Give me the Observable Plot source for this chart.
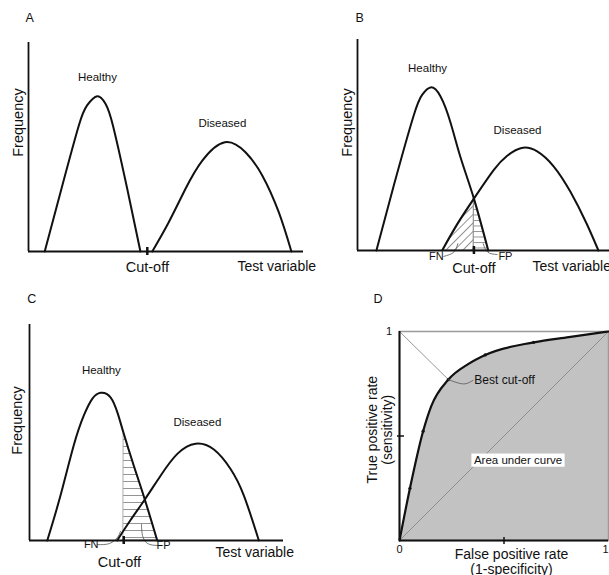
<!DOCTYPE html>
<html><head><meta charset="utf-8">
<script src="https://cdn.jsdelivr.net/npm/d3@7"></script>
<script src="https://cdn.jsdelivr.net/npm/@observablehq/plot@0.6"></script>
<style>
body{margin:0;background:#fff;}
#root{position:relative;width:609px;height:575px;overflow:hidden;background:#fff;}
#root svg{position:absolute;overflow:visible;background:transparent;}
</style></head><body><div id="root"></div>
<script>
// ---------------- DATA ----------------
// Panels A–C: test variable (0–100) vs frequency (0–100)
const healthyA  = [[5.9,0],[12.3,31.6],[18.3,60.3],[21.3,69.9],[25.0,74.3],[28.0,70.7],[30.7,60.3],[35.9,30.0],[40.7,0]];
const diseasedA = [[45.0,0],[51.0,14.0],[57.1,30.0],[63.2,43.5],[71.4,52.3],[78.9,47.5],[85.0,36.4],[91.0,18.8],[95.6,0]];
const cutoffA = 43.2;

const healthyB  = [[7.5,0],[14.4,30.8],[22.3,64.0],[25.7,73.9],[29.0,77.3],[32.9,73.1],[36.9,60.7],[40.9,44.1],[46.2,24.6],[51.9,0]];
const diseasedB = [[33.6,0],[39.6,12.5],[46.2,24.6],[54.1,38.2],[59.4,44.9],[65.1,48.6],[71.3,47.0],[77.9,39.8],[84.5,27.8],[90.9,12.8],[95.6,0]];
const cutoffB = 46.2;

const healthyC  = [[7.0,0],[12.2,20.8],[17.4,44.0],[21.4,57.9],[24.7,65.6],[28.0,68.4],[31.9,66.3],[34.8,58.6],[37.1,49.5],[41.1,34.5],[45.4,19.0],[50.3,0]];
const diseasedC = [[34.5,0],[39.8,9.5],[45.4,19.0],[51.6,30.0],[58.2,40.1],[65.4,44.8],[72.6,42.1],[79.1,33.2],[84.4,20.8],[90.3,0]];
const cutoffC = 37.1;

// Panel D: ROC curve (false positive rate, true positive rate)
const rocFpr = [0, 0.05, 0.113, 0.152, 0.234, 0.33, 0.41, 0.642, 0.81, 1];
const rocTpr = [0, 0.25, 0.523, 0.643, 0.770, 0.845, 0.888, 0.948, 0.973, 1];
const rocMarkerIdx = [1, 2, 4, 6, 7];
const bestCutoffIdx = 4;

// Texts
const panelLetters = ["A", "B", "C", "D"];
const groupLabels = ["Healthy", "Diseased"];
const axisTexts = {freq: "Frequency", cut: "Cut-off", test: "Test variable", fn: "FN", fp: "FP"};
const rocTexts = {y: "True positive rate\n(sensitivity)", x: "False positive rate\n(1-specificity)", best: "Best cut-off", auc: "Area under curve"};
const rocTickLabels = ["0", "1"];

// ---------------- DRAW ----------------
const FONT = "'Liberation Sans', Arial, Helvetica, sans-serif";
const INK = "#111";
const CURVE = "natural";
const root = document.getElementById("root");
const toObj = arr => arr.map(([x, y]) => ({x, y}));

function addPatterns(svg, id, spacingH, spacingD) {
  const ns = "http://www.w3.org/2000/svg";
  const defs = document.createElementNS(ns, "defs");
  defs.innerHTML =
    `<pattern id="${id}-horiz" patternUnits="userSpaceOnUse" width="8" height="${spacingH}"><line x1="0" y1="0.5" x2="8" y2="0.5" stroke="#888" stroke-width="0.9"/></pattern>` +
    `<pattern id="${id}-diag" patternUnits="userSpaceOnUse" width="${spacingD}" height="${spacingD}" patternTransform="rotate(45)"><line x1="0.5" y1="0" x2="0.5" y2="${spacingD}" stroke="#888" stroke-width="0.9"/></pattern>`;
  svg.insertBefore(defs, svg.firstChild);
}

function place(svg, left, top) {
  svg.style.left = left + "px";
  svg.style.top = top + "px";
  root.appendChild(svg);
}

function distPanel(o) {
  const H = toObj(o.healthy), D = toObj(o.diseased);
  const ln = {x: "x", y: "y", curve: CURVE};
  const marks = [];
  if (o.fnHatch) marks.push(Plot.areaY(D.filter(d => d.x <= o.cutoff), {...ln, fill: `url(#${o.id}-diag)`, stroke: "#888", strokeWidth: 0.7}));
  if (o.fpHatch) marks.push(Plot.areaY(H.filter(d => d.x >= o.cutoff), {...ln, fill: `url(#${o.id}-horiz)`, stroke: "#888", strokeWidth: 0.7}));
  if (o.fnLeader) marks.push(Plot.line(toObj(o.fnLeader), {x: "x", y: "y", curve: "natural", stroke: "#555", strokeWidth: 0.8}));
  if (o.fpLeader) marks.push(Plot.line(toObj(o.fpLeader), {x: "x", y: "y", curve: "natural", stroke: "#555", strokeWidth: 0.8}));
  marks.push(
    Plot.line(H, {...ln, stroke: INK, strokeWidth: 2}),
    Plot.line(D, {...ln, stroke: INK, strokeWidth: 2}),
    Plot.ruleX([0], {stroke: INK, strokeWidth: 1.8}),
    Plot.ruleY([0], {stroke: INK, strokeWidth: 1.8}),
    Plot.ruleX([o.cutoff], {y1: 0, y2: 0, insetTop: 4, insetBottom: 4, stroke: INK, strokeWidth: 2.5}),
    Plot.text([o.letter], {frameAnchor: "top-left", dx: o.letterD[0], dy: o.letterD[1], textAnchor: "start", lineAnchor: "middle", fontSize: 12.5, fill: INK}),
    Plot.text([groupLabels[0]], {x: o.healthyLabel[0], y: o.healthyLabel[1], fontSize: 11.5, fill: INK}),
    Plot.text([groupLabels[1]], {x: o.diseasedLabel[0], y: o.diseasedLabel[1], fontSize: 11.5, fill: INK}),
    Plot.text([axisTexts.freq], {x: 0, y: o.freqY, dx: o.freqDx, rotate: -90, fontSize: 14.5, fill: INK}),
    Plot.text([axisTexts.cut], {x: o.cutLabelX ?? o.cutoff, y: 0, dy: o.cutDy, fontSize: 14.5, fill: INK}),
    Plot.text([axisTexts.test], {x: o.testX, y: 0, dy: o.testDy, textAnchor: "start", fontSize: 14, fill: INK})
  );
  if (o.fnText) marks.push(Plot.text([axisTexts.fn], {x: o.fnText[0], y: 0, dy: o.fnText[1], fontSize: 11, fill: INK}));
  if (o.fpText) marks.push(Plot.text([axisTexts.fp], {x: o.fpText[0], y: 0, dy: o.fpText[1], fontSize: 11, fill: INK}));
  const svg = Plot.plot({
    width: o.width, height: 290,
    marginLeft: o.m[0], marginRight: o.m[1], marginTop: o.m[2], marginBottom: o.m[3],
    x: {domain: [0, 100], axis: null},
    y: {domain: [0, 100], axis: null},
    style: {fontFamily: FONT, overflow: "visible", background: "transparent"},
    marks
  });
  addPatterns(svg, o.id, o.spacingH, 6);
  place(svg, o.left, o.top);
}

distPanel({
  id: "pA", letter: panelLetters[0], left: 0, top: 0, width: 305, m: [28, 2, 42, 39],
  healthy: healthyA, diseased: diseasedA, cutoff: cutoffA,
  letterD: [-3, -24.7], healthyLabel: [25.1, 83.3], diseasedLabel: [70.5, 61.2],
  freqY: 61.7, freqDx: -10, cutDy: 16, testX: 76, testDy: 15, spacingH: 5.5
});

distPanel({
  id: "pB", letter: panelLetters[1], left: 305, top: 0, width: 304, m: [52, 0, 39, 40],
  healthy: healthyB, diseased: diseasedB, cutoff: cutoffB, fnHatch: true, fpHatch: true,
  letterD: [-2, -21.7], healthyLabel: [27.8, 86.3], diseasedLabel: [63.5, 56.9],
  freqY: 60.7, freqDx: -10.3, cutDy: 18, testX: 69.4, testDy: 16, spacingH: 5.5,
  fnText: [31.3, 6], fpText: [58.7, 6],
  fnLeader: [[34.2, -2.8], [38.2, -0.8], [39.8, 3.2]],
  fpLeader: [[55.4, -1.9], [51.7, -0.8], [49.9, 3.2]]
});

distPanel({
  id: "pC", letter: panelLetters[2], left: 0, top: 285, width: 305, m: [29, 22, 39, 35],
  healthy: healthyC, diseased: diseasedC, cutoff: cutoffC, fpHatch: true,
  letterD: [-2.3, -25.7], healthyLabel: [28.3, 78.7], diseasedLabel: [66.1, 54.6],
  freqY: 55.6, freqDx: -12.3, cutLabelX: 35.4, cutDy: 21.7, testX: 73.2, testDy: 11.7, spacingH: 7,
  fnText: [24.3, 4.3], fpText: [52.8, 5],
  fnLeader: [[26.8, -1.9], [31.5, -1.4], [34.6, 1.4], [35.8, 4.2]],
  fpLeader: [[50.4, -2.3], [46.5, -1.4], [44.5, 2.3], [44.1, 7.4]]
});

// Panel D
(function () {
  const roc = rocFpr.map((x, i) => ({x, y: rocTpr[i]}));
  const markers = rocMarkerIdx.map(i => roc[i]);
  const best = roc[bestCutoffIdx];
  const ln = {x: "x", y: "y"};
  const svg = Plot.plot({
    width: 304, height: 290,
    marginLeft: 94, marginRight: 1, marginTop: 46, marginBottom: 35,
    x: {domain: [0, 1], axis: null},
    y: {domain: [0, 1], axis: null},
    style: {fontFamily: FONT, overflow: "visible", background: "transparent"},
    marks: [
      Plot.areaY(roc, {...ln, curve: "monotone-x", fill: "#c2c2c2"}),
      Plot.frame({stroke: "#9a9a9a", strokeWidth: 1.5}),
      Plot.line([{x: 0, y: 0}, {x: 1, y: 1}], {...ln, stroke: "#8a8a8a", strokeWidth: 0.9}),
      Plot.line([{x: 0, y: 1}, best], {...ln, stroke: "#8a8a8a", strokeWidth: 0.9}),
      Plot.line(roc, {...ln, curve: "monotone-x", stroke: INK, strokeWidth: 2.2}),
      Plot.dot(markers, {...ln, r: 1.6, fill: INK}),
      Plot.line([best, {x: 0.276, y: 0.755}, {x: 0.316, y: 0.750}, {x: 0.351, y: 0.766}], {...ln, curve: "natural", stroke: "#555", strokeWidth: 0.8}),
      Plot.ruleX([0], {stroke: INK, strokeWidth: 2}),
      Plot.ruleY([0], {stroke: INK, strokeWidth: 2}),
      Plot.ruleX([0.5], {y1: 0, y2: 0, insetTop: 4, insetBottom: 3, stroke: INK, strokeWidth: 1.5}),
      Plot.ruleY([0.5], {x1: 0, x2: 0, insetLeft: 5, insetRight: 2, stroke: INK, strokeWidth: 1.5}),
      Plot.text([rocTexts.best], {x: 0.358, y: 0.766, textAnchor: "start", fontSize: 12, fill: INK}),
      Plot.text([rocTexts.auc], {x: 0.567, y: 0.383, fontSize: 11.5, fill: INK}),
      Plot.text([rocTickLabels[0]], {x: 0, y: 0, dy: 8.5, fontSize: 11, fill: INK}),
      Plot.text([rocTickLabels[1]], {x: 1, y: 0, dy: 8.5, dx: -3, fontSize: 11, fill: INK}),
      Plot.text([rocTickLabels[1]], {x: 0, y: 1, dx: -10.5, fontSize: 11, fill: INK}),
      Plot.text([rocTexts.y], {x: 0, y: 0.53, dx: -20, rotate: -90, lineHeight: 1.08, fontSize: 14, fill: INK}),
      Plot.text([rocTexts.x], {x: 0.536, y: 0, dy: 21, lineHeight: 1.1, fontSize: 14, fill: INK}),
      Plot.text([panelLetters[3]], {frameAnchor: "top-left", dx: -26, dy: -33, textAnchor: "start", lineAnchor: "middle", fontSize: 12.5, fill: INK})
    ]
  });
  place(svg, 305, 285);
  // white box behind "Area under curve"
  const ns = "http://www.w3.org/2000/svg";
  svg.querySelectorAll("text").forEach(t => {
    if (t.textContent === rocTexts.auc) {
      const b = t.getBBox();
      const r = document.createElementNS(ns, "rect");
      r.setAttribute("x", b.x - 2.5);
      r.setAttribute("y", b.y - 0.6);
      r.setAttribute("width", b.width + 5);
      r.setAttribute("height", b.height + 1.2);
      r.setAttribute("fill", "#fff");
      const tr = t.getAttribute("transform");
      if (tr) r.setAttribute("transform", tr);
      t.parentNode.insertBefore(r, t);
    }
  });
})();
</script></body></html>
